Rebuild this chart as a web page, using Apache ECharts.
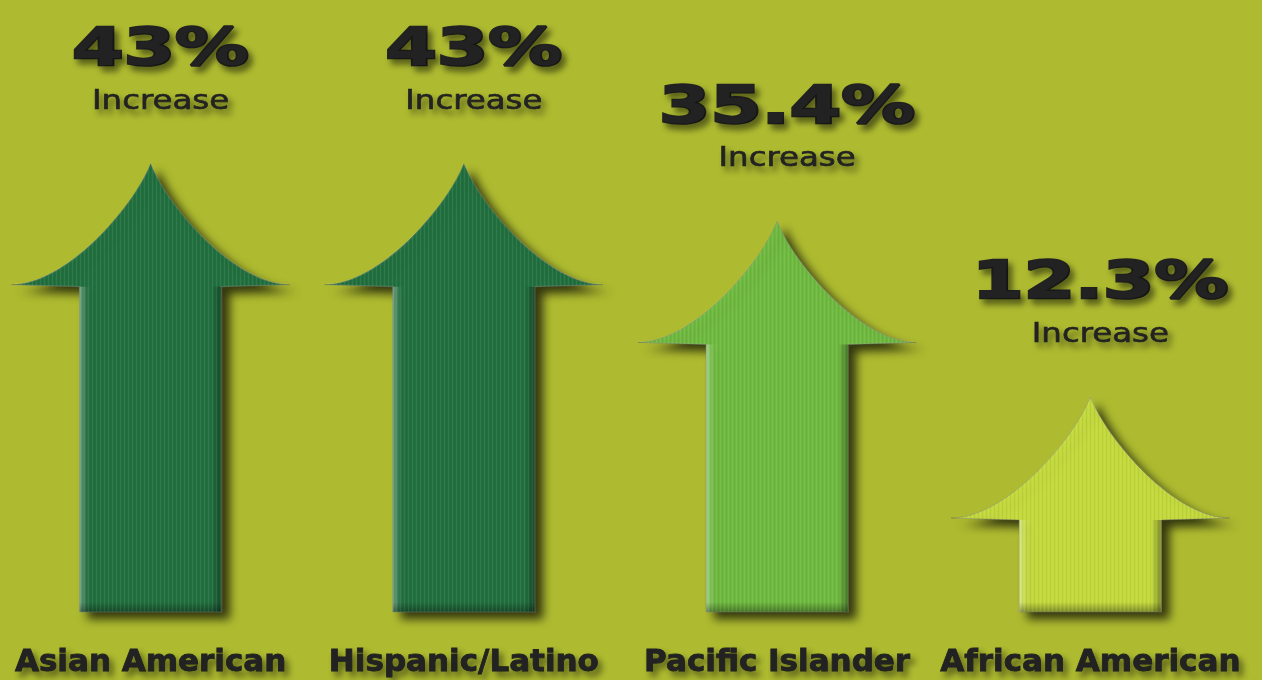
<!DOCTYPE html>
<html>
<head>
<meta charset="utf-8">
<script src="https://cdn.jsdelivr.net/npm/echarts@6/dist/echarts.min.js"></script>
<style>
  html, body { margin: 0; padding: 0; background: #aebb30; }
  #chart { width: 1262px; height: 680px; }
</style>
</head>
<body>
<div id="chart"></div>
<script>
// ---- data ----
const categories = ['Asian American', 'Hispanic/Latino', 'Pacific Islander', 'African American'];
const increases = [43, 43, 35.4, 12.3];
const increaseWord = 'Increase';

// ---- styles ----
const arrowColors = ['#22703f', '#22703f', '#6fba40', '#c3d93c'];
const yMin = -16, yMax = 64;
const textColor = '#222222';

// subtle vertical fibre texture
const texCanvas = document.createElement('canvas');
texCanvas.width = 4; texCanvas.height = 2;
(function () {
  const c = texCanvas.getContext('2d');
  c.fillStyle = 'rgba(255,255,255,0.07)'; c.fillRect(0, 0, 1, 2);
  c.fillStyle = 'rgba(0,0,0,0.05)'; c.fillRect(2, 0, 1, 2);
})();

const chart = echarts.init(document.getElementById('chart'), null, { renderer: 'canvas' });

function renderItem(params, api) {
  const idx = api.value(0);
  const v = api.value(1);
  const tip = api.coord([idx, v]);
  const base = api.coord([idx, yMin]);
  const band = api.size([1, 0])[0];
  const k = band / 313;
  const cx = tip[0], ty = tip[1];
  const headH = 121 * k, headHalf = 139 * k, shaftHalf = 71 * k;
  const wy = ty + headH;
  const c1x = 18 * k, c1y = 45 * k, c2x = 85 * k, c2y = 121 * k;
  const d = [
    'M', cx, ty,
    'C', cx + c1x, ty + c1y, cx + c2x, ty + c2y, cx + headHalf, wy,
    'L', cx + shaftHalf, wy + 2,
    'L', cx + shaftHalf, base[1],
    'L', cx - shaftHalf, base[1],
    'L', cx - shaftHalf, wy + 2,
    'L', cx - headHalf, wy,
    'C', cx - c2x, ty + c2y, cx - c1x, ty + c1y, cx, ty,
    'Z'
  ].join(' ');
  const label = (Math.round(v * 10) / 10) + '%';
  const shadow = {
    textShadowBlur: 6, textShadowColor: 'rgba(0,0,0,0.45)',
    textShadowOffsetX: 4, textShadowOffsetY: 5
  };
  const sTop = wy + 2, sBot = base[1];
  const sw = 2 * shaftHalf;
  return {
    type: 'group',
    children: [
      {
        type: 'path',
        shape: { pathData: d },
        style: {
          fill: arrowColors[idx],
          stroke: 'rgba(0,0,0,0.25)',
          lineWidth: 1,
          shadowBlur: 10,
          shadowColor: 'rgba(0,0,0,0.7)',
          shadowOffsetX: 8,
          shadowOffsetY: 7
        }
      },
      {
        // shaft bevel: light left edge, dark right edge
        type: 'rect',
        silent: true,
        shape: { x: cx - shaftHalf, y: sTop, width: sw, height: sBot - sTop },
        style: {
          fill: new echarts.graphic.LinearGradient(0, 0, 1, 0, [
            { offset: 0, color: 'rgba(255,255,255,0.35)' },
            { offset: 7 / sw, color: 'rgba(255,255,255,0.05)' },
            { offset: 12 / sw, color: 'rgba(255,255,255,0)' },
            { offset: 1 - 10 / sw, color: 'rgba(0,0,0,0)' },
            { offset: 1, color: 'rgba(0,0,0,0.35)' }
          ])
        }
      },
      {
        // shaft bevel: dark bottom edge
        type: 'rect',
        silent: true,
        shape: { x: cx - shaftHalf, y: sBot - 10, width: sw, height: 10 },
        style: {
          fill: new echarts.graphic.LinearGradient(0, 0, 0, 1, [
            { offset: 0, color: 'rgba(0,0,0,0)' },
            { offset: 1, color: 'rgba(0,0,0,0.35)' }
          ])
        }
      },
      {
        type: 'path',
        shape: { pathData: d },
        silent: true,
        style: {
          fill: { image: texCanvas, repeat: 'repeat' },
          stroke: 'rgba(255,255,255,0.22)',
          lineWidth: 1.2
        }
      },
      {
        type: 'text',
        x: cx + 10, y: ty - 112,
        scaleX: 1.42,
        style: Object.assign({
          text: label,
          fill: textColor,
          stroke: textColor,
          lineWidth: 2.5,
          font: 'bold 52px "DejaVu Sans"',
          align: 'center',
          verticalAlign: 'middle'
        }, shadow)
      },
      {
        type: 'text',
        x: cx + 10, y: ty - 62,
        scaleX: 1.2,
        style: Object.assign({
          text: increaseWord,
          fill: textColor,
          stroke: textColor,
          lineWidth: 0.6,
          font: '27px "DejaVu Sans"',
          align: 'center',
          verticalAlign: 'middle'
        }, shadow)
      }
    ]
  };
}

chart.setOption({
  backgroundColor: '#aebb30',
  animation: false,
  grid: { left: -6, right: 15, top: 4, bottom: 68, containLabel: false, outerBoundsMode: 'none' },
  xAxis: {
    type: 'category',
    data: categories,
    axisLine: { show: false },
    axisTick: { show: false },
    splitLine: { show: false },
    axisLabel: {
      interval: 0,
      margin: 35,
      color: textColor,
      fontFamily: 'DejaVu Sans',
      fontWeight: 'bold',
      fontSize: 31,
      textBorderColor: textColor,
      textBorderWidth: 0.8,
      textShadowBlur: 6,
      textShadowColor: 'rgba(0,0,0,0.45)',
      textShadowOffsetX: 4,
      textShadowOffsetY: 5
    }
  },
  yAxis: {
    type: 'value',
    min: yMin,
    max: yMax,
    show: false,
    splitLine: { show: false }
  },
  series: [{
    type: 'custom',
    renderItem: renderItem,
    encode: { x: 0, y: 1 },
    clip: false,
    data: increases.map((v, i) => [i, v])
  }]
});
</script>
</body>
</html>
